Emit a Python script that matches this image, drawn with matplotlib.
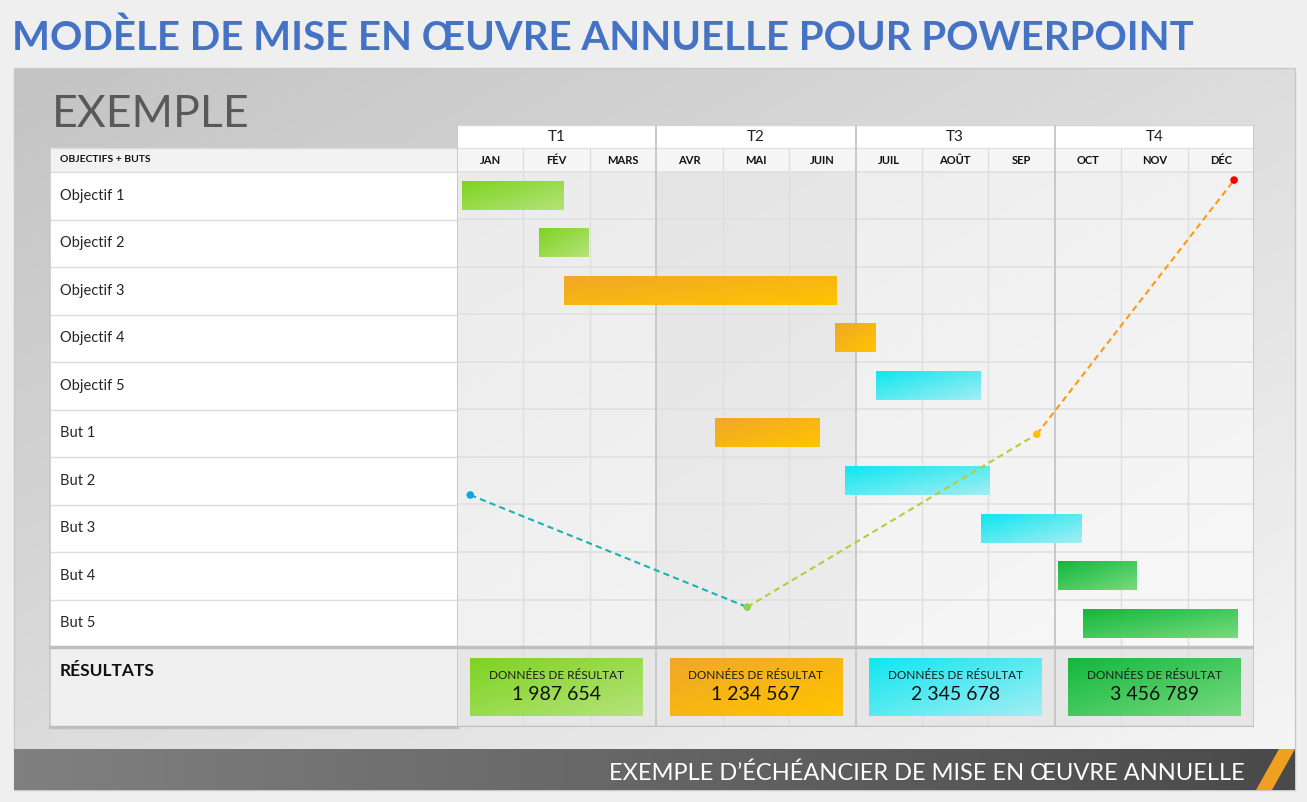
import numpy as np
import matplotlib.pyplot as plt
from matplotlib.colors import LinearSegmentedColormap
from matplotlib.patches import Rectangle, Polygon

plt.rcParams['font.family'] = ['Lato', 'DejaVu Sans']

# Data
quarters = ['T1', 'T2', 'T3', 'T4']
months = ['JAN', 'FÉV', 'MARS', 'AVR', 'MAI', 'JUIN', 'JUIL', 'AOÛT', 'SEP', 'OCT', 'NOV', 'DÉC']
rows = ['Objectif 1', 'Objectif 2', 'Objectif 3', 'Objectif 4', 'Objectif 5',
        'But 1', 'But 2', 'But 3', 'But 4', 'But 5']
bar_start = [0.08, 1.23, 1.61, 5.69, 6.31, 3.89, 5.84, 7.89, 9.05, 9.43]
bar_end = [1.61, 1.97, 5.72, 6.30, 7.89, 5.47, 8.01, 9.41, 10.23, 11.76]
bar_kind = ['lime', 'lime', 'amber', 'amber', 'cyan', 'amber', 'cyan', 'cyan', 'green', 'green']

trend_x = [0.20, 4.37, 8.73, 11.70]
trend_y = [6.80, 9.16, 5.52, 0.17]
trend_dots = ['#0aa6e6', '#92d050', '#ffc000', '#ff0000']
trend_segs = ['#14b4b4', '#b9cc35', '#ff9a10']

result_label = 'DONNÉES DE RÉSULTAT'
result_values = ['1 987 654', '1 234 567', '2 345 678', '3 456 789']
result_kind = ['lime', 'amber', 'cyan', 'green']

palette = {
    'lime': ('#7ed321', '#b5e37a'),
    'amber': ('#f0a828', '#ffc400'),
    'cyan': ('#10e6f0', '#a2eef3'),
    'green': ('#12b83c', '#78da80'),
}

W, H = 1307, 802
fig = plt.figure(figsize=(W / 100, H / 100), dpi=100)
fig.patch.set_facecolor('#efefef')

bg = fig.add_axes([0, 0, 1, 1])
bg.set_xlim(0, W)
bg.set_ylim(H, 0)
bg.set_autoscale_on(False)
bg.axis('off')


def gradient(axis, x0, x1, y0, y1, c0, c1, how='diag', zorder=1):
    u = np.linspace(0, 1, 64)
    if how == 'diag':
        g = (u[None, :] + u[:, None]) / 2
    else:
        g = np.tile(u, (64, 1))
    cmap = LinearSegmentedColormap.from_list('g', [c0, c1])
    axis.imshow(g, cmap=cmap, vmin=0, vmax=1, extent=(x0, x1, y1, y0),
                aspect='auto', interpolation='bilinear', zorder=zorder)


def fit(t, width):
    r = fig.canvas.get_renderer()
    bb = t.get_window_extent(r)
    t.set_fontsize(t.get_fontsize() * width / bb.width)


# slide panel + footer
gradient(bg, 14, 1295, 68, 790, '#c4c4c4', '#f6f6f6', zorder=0)
bg.add_patch(Rectangle((14, 68), 1281, 722, fill=False, ec='#c8c8c8', lw=1, zorder=1))
gradient(bg, 14, 1295, 749, 790, '#808080', '#4a4a4a', how='h', zorder=1)
bg.add_patch(Polygon([(1256, 790), (1272, 790), (1295, 749), (1279, 749)],
                     closed=True, fc='#f0a020', ec='none', zorder=2))

t = bg.text(12, 50, 'MODÈLE DE MISE EN ŒUVRE ANNUELLE POUR POWERPOINT',
            color='#4472c4', fontweight='bold', fontsize=30, va='baseline')
fit(t, 1183)
t = bg.text(52, 127, 'EXEMPLE', color='#595959', fontweight='normal', fontsize=36, va='baseline')
fit(t, 198)
t = bg.text(1245, 780, 'EXEMPLE D’ÉCHÉANCIER DE MISE EN ŒUVRE ANNUELLE',
            color='white', fontsize=17, ha='right', va='baseline', zorder=3)
fit(t, 635)

# left label column
top, rh = 172, 47.5
bg.add_patch(Rectangle((50, 148), 407, 24, fc='#f2f2f2', ec='none', zorder=1))
bg.add_patch(Rectangle((50, top), 407, rh * 10, fc='white', ec='none', zorder=1))
bg.add_patch(Rectangle((50, top + rh * 10), 407, 80, fc='#f0f0f0', ec='none', zorder=1))
for i in range(11):
    bg.plot([50, 457], [top + rh * i] * 2, color='#dcdcdc', lw=1, zorder=2)
bg.plot([50, 457], [148, 148], color='#dcdcdc', lw=1, zorder=2)
bg.plot([50, 50], [148, 727], color='#c8c8c8', lw=1.2, zorder=2)
bg.plot([50, 457], [647, 647], color='#bfbfbf', lw=2.5, zorder=2)
bg.plot([50, 457], [727, 727], color='#bfbfbf', lw=2.5, zorder=2)
bg.text(60, 160, 'OBJECTIFS + BUTS', fontsize=7.5, fontweight='bold', va='center', color='#111111', zorder=3)
for i, name in enumerate(rows):
    bg.text(60, top + rh * (i + 0.5), name, fontsize=10.5, va='center', color='#262626', zorder=3)
bg.text(60, 671, 'RÉSULTATS', fontsize=12.5, fontweight='bold', va='center', color='#111111', zorder=3)

# timeline grid
ax = fig.add_axes([457 / W, 1 - 727 / H, 797 / W, 602 / H])
ax.set_xlim(0, 12)
ax.set_ylim(11.684, -0.989)
ax.set_autoscale_on(False)
ax.axis('off')

gradient(ax, 0, 12, 0, 10, '#ebebeb', '#f8f8f8', zorder=0)
ax.add_patch(Rectangle((3, 0), 3, 10, fc='black', alpha=0.03, lw=0, zorder=0.5))
ax.add_patch(Rectangle((0, 10), 12, 1.684, fc='#e6e6e6', lw=0, zorder=0.5))
ax.add_patch(Rectangle((0, -0.989), 12, 0.484, fc='white', lw=0, zorder=0.5))
ax.add_patch(Rectangle((0, -0.505), 12, 0.505, fc='#f5f5f5', lw=0, zorder=0.5))

for m in range(1, 12):
    if m % 3:
        ax.vlines(m, -0.505, 11.684, color='#dedede', lw=1, zorder=1)
for r in range(10):
    ax.hlines(r, 0, 12, color='#e0e0e0', lw=1.2, zorder=1)
ax.hlines(-0.505, 0, 12, color='#e2e2e2', lw=1, zorder=1)
ax.hlines(-0.989, 0, 12, color='#d6d6d6', lw=1, zorder=1)
for q in range(0, 13, 3):
    ax.vlines(q, -0.989, 11.684, color='#c8c8c8', lw=1.4, zorder=1.5)
ax.hlines([10, 11.684], 0, 12, color='#bfbfbf', lw=2.5, zorder=1.6)

for q, name in enumerate(quarters):
    ax.text(3 * q + 1.5, -0.745, name, ha='center', va='center', fontsize=11, color='#222222')
for m, name in enumerate(months):
    ax.text(m + 0.5, -0.25, name, ha='center', va='center', fontsize=8,
            fontweight='bold', color='#111111')

for i in range(len(rows)):
    c0, c1 = palette[bar_kind[i]]
    gradient(ax, bar_start[i], bar_end[i], i + 0.2, i + 0.8, c0, c1, zorder=3)

for k in range(len(trend_x) - 1):
    ax.plot(trend_x[k:k + 2], trend_y[k:k + 2], color=trend_segs[k], lw=1.5,
            ls=(0, (3, 2)), zorder=4)
ax.scatter(trend_x, trend_y, c=trend_dots, s=30, zorder=5, linewidths=0)

for q, val in enumerate(result_values):
    c0, c1 = palette[result_kind[q]]
    gradient(ax, 3 * q + 0.2, 3 * q + 2.8, 10.23, 11.45, c0, c1, zorder=3)
    ax.text(3 * q + 1.5, 10.59, result_label, ha='center', va='center', fontsize=8.5,
            color='#1a1a1a', zorder=4)
    ax.text(3 * q + 1.5, 10.99, val, ha='center', va='center', fontsize=14,
            color='#111111', zorder=4)

fig.savefig('out.png', dpi=100, facecolor=fig.get_facecolor())
